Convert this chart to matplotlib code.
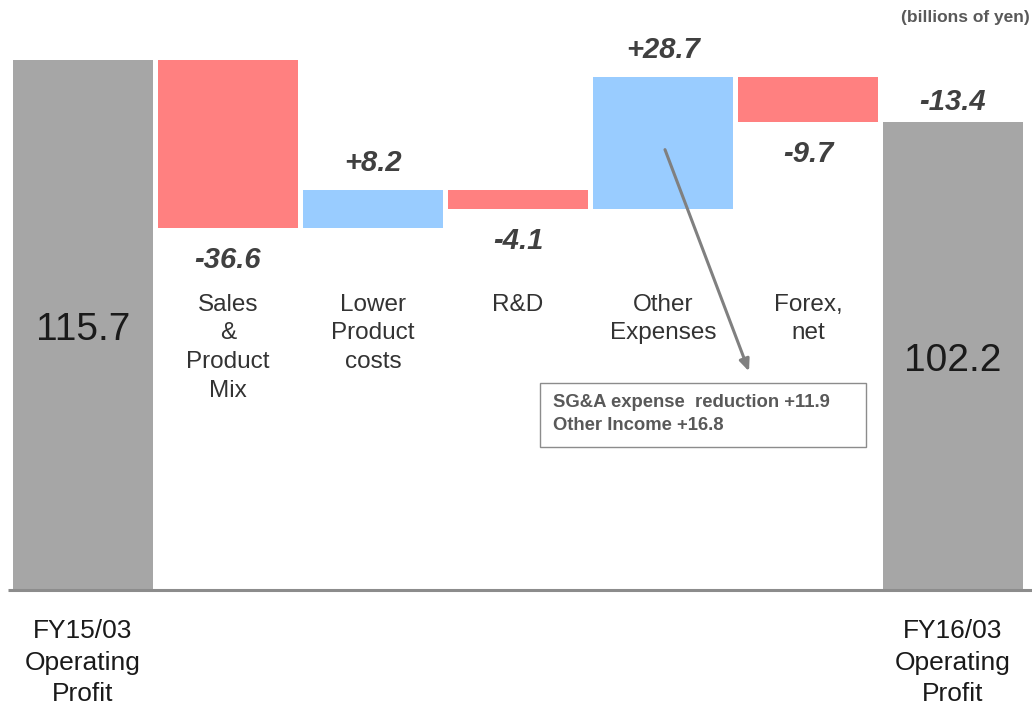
import matplotlib
matplotlib.use("Agg")
import matplotlib.pyplot as plt
from matplotlib.patches import Rectangle

plt.rcParams['font.family'] = ['Liberation Sans', 'DejaVu Sans']

# Operating profit bridge, billions of yen
start_label = "FY15/03\nOperating\nProfit"
end_label = "FY16/03\nOperating\nProfit"
start_value = 115.7
end_value = 102.2
step_names = ["Sales\n&\nProduct\nMix", "Lower\nProduct\ncosts", "R&D",
              "Other\nExpenses", "Forex,\nnet"]
step_changes = [-36.6, 8.2, -4.1, 28.7, -9.7]
step_texts = ["-36.6", "+8.2", "-4.1", "+28.7", "-9.7"]
total_change_text = "-13.4"
note_lines = ["SG&A expense  reduction +11.9", "Other Income +16.8"]
unit_text = "(billions of yen)"

GRAY = "#a6a6a6"
RED = "#ff8080"
BLUE = "#99ccff"
TXT = "#404040"

fig = plt.figure(figsize=(10.32, 7.07), dpi=100)
ax = fig.add_axes([0, 0, 1, 1])
ax.set_xlim(-0.5724, 6.5448)
ax.set_ylim(-25.54, 128.8)
ax.axis("off")

W = 0.96
n = len(step_changes)

# end-point bars
ax.bar(0, start_value, width=W, color=GRAY, zorder=2)
ax.bar(n + 1, end_value, width=W, color=GRAY, zorder=2)

# floating step bars
level = start_value
tops = []
bottoms = []
for i, d in enumerate(step_changes):
    lo, hi = min(level, level + d), max(level, level + d)
    ax.bar(i + 1, hi - lo, bottom=lo, width=W,
           color=RED if d < 0 else BLUE, zorder=2)
    tops.append(hi)
    bottoms.append(lo)
    level += d

# baseline
ax.plot([-0.52, 6.55], [0, 0], color="#8c8c8c", lw=2.2, zorder=3,
        solid_capstyle="butt")

# step value labels
val_font = dict(fontsize=21, fontweight="bold", fontstyle="italic",
                color=TXT, ha="center", va="center")
for i, (d, t) in enumerate(zip(step_changes, step_texts)):
    if d < 0:
        y = bottoms[i] - 7.0
    else:
        y = tops[i] + 6.0
    ax.text(i + 1, y, t, **val_font)
ax.text(n + 1, end_value + 4.4, total_change_text, **val_font)

# category names under the step bars
for i, name in enumerate(step_names):
    ax.text(i + 1, 64.7, name, fontsize=17.5, color="#333333",
            ha="center", va="top", linespacing=1.39)

# totals inside the end bars
ax.text(0, 56.7, f"{start_value:.1f}", fontsize=28, color="#1a1a1a",
        ha="center", va="center")
ax.text(n + 1, 50.1, f"{end_value:.1f}", fontsize=28, color="#1a1a1a",
        ha="center", va="center")

# period labels beneath the axis
for x, lab in [(0, start_label), (n + 1, end_label)]:
    ax.text(x, -6.3, lab, fontsize=19, color="#1a1a1a", ha="center",
            va="top", linespacing=1.41)

# unit note
ax.text(6.53, 124.9, unit_text, fontsize=12.5, fontweight="bold",
        color="#595959", ha="right", va="center")

# callout for other expenses
x0, x1 = (540 - 83) / 145, (866 - 83) / 145
y0, y1 = (590 - 447) / 4.581, (590 - 383) / 4.581
ax.add_patch(Rectangle((x0, y0), x1 - x0, y1 - y0, facecolor="white",
                       edgecolor="#8c8c8c", lw=1.0, zorder=4))
ax.text(x0 + 13 / 145, (590 - 402) / 4.581, note_lines[0], fontsize=13.3,
        fontweight="bold", color="#595959", ha="left", va="center", zorder=5)
ax.text(x0 + 13 / 145, (590 - 425) / 4.581, note_lines[1], fontsize=13.3,
        fontweight="bold", color="#595959", ha="left", va="center", zorder=5)
ax.annotate("", xy=((750 - 83) / 145, (590 - 374) / 4.581),
            xytext=((664 - 83) / 145, (590 - 147) / 4.581),
            arrowprops=dict(arrowstyle="-|>,head_length=0.7,head_width=0.3",
                            color="#808080", lw=2.2), zorder=5)

fig.savefig("out.png", dpi=100)
